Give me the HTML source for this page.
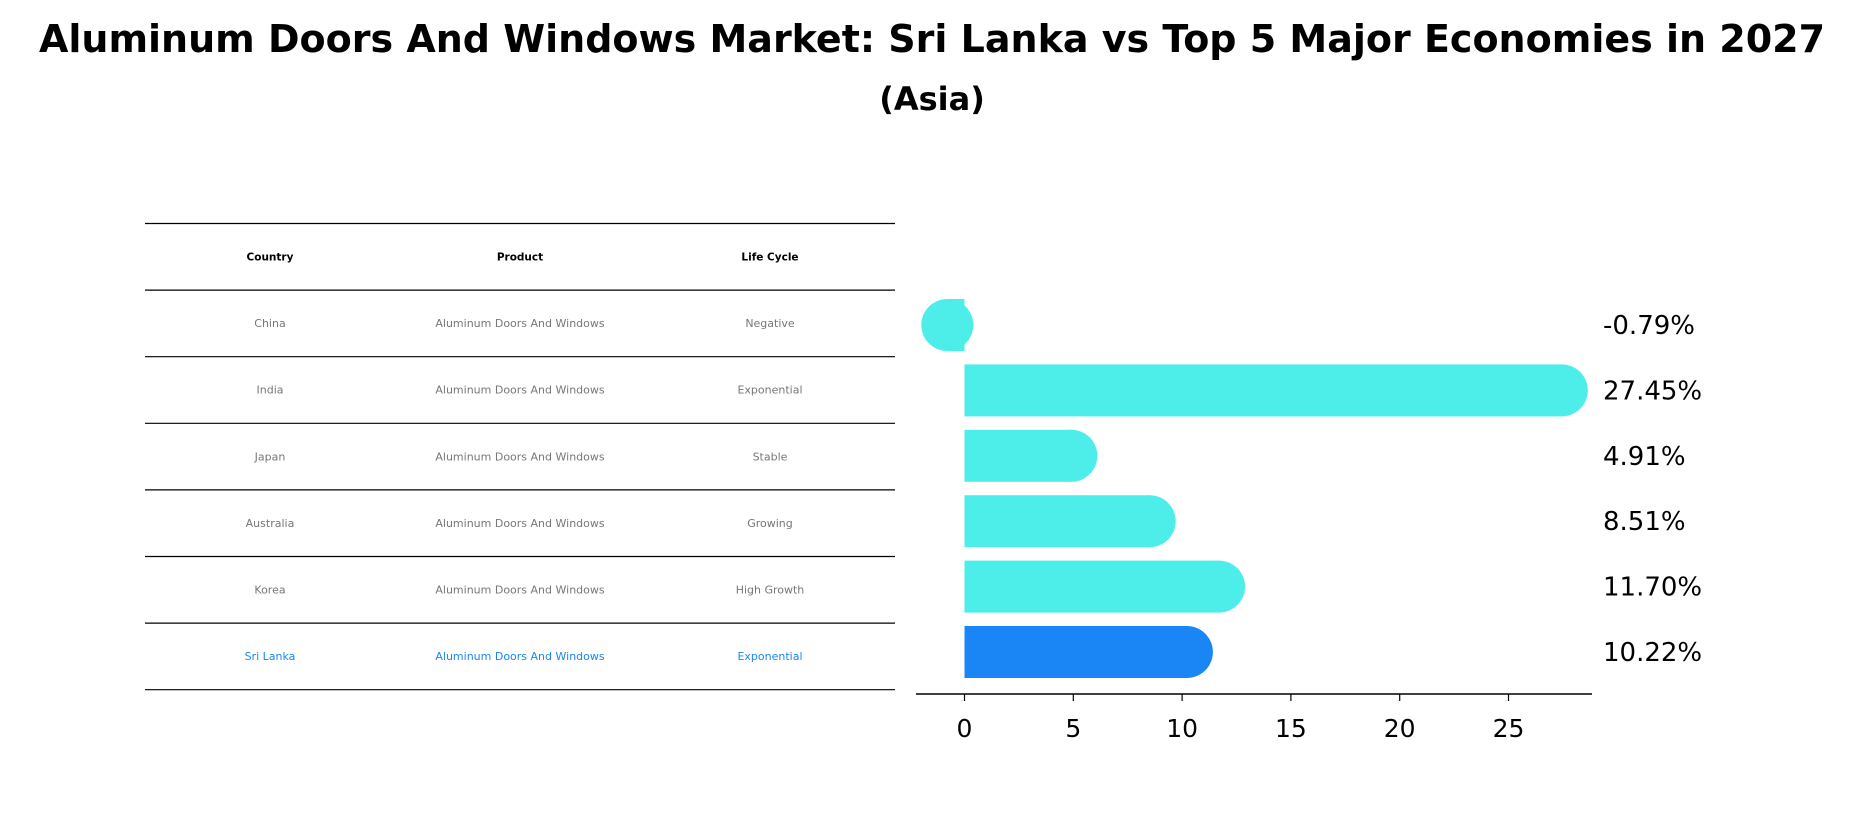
<!DOCTYPE html>
<html><head><meta charset="utf-8"><style>
body{margin:0;background:#fff;}
svg{display:block;font-family:"DejaVu Sans","Liberation Sans",sans-serif;}
</style></head><body>
<svg width="1865" height="823" viewBox="0 0 1865 823">
<text x="932" y="52" text-anchor="middle" font-size="38" font-weight="bold">Aluminum Doors And Windows Market: Sri Lanka vs Top 5 Major Economies in 2027</text>
<text x="932" y="110" text-anchor="middle" font-size="32" font-weight="bold">(Asia)</text>
<g id="table"></g>
<g id="bars"></g>
</svg>
<script>
const countries=["China","India","Japan","Australia","Korea","Sri Lanka"];
const products=["Aluminum Doors And Windows","Aluminum Doors And Windows","Aluminum Doors And Windows","Aluminum Doors And Windows","Aluminum Doors And Windows","Aluminum Doors And Windows"];
const lifeCycles=["Negative","Exponential","Stable","Growing","High Growth","Exponential"];
const values=[-0.79,27.45,4.91,8.51,11.70,10.22];
const valueLabels=["-0.79%","27.45%","4.91%","8.51%","11.70%","10.22%"];
const ticks=[0,5,10,15,20,25];
const NS="http://www.w3.org/2000/svg";
function mk(t,a,p){const e=document.createElementNS(NS,t);for(const k in a)e.setAttribute(k,a[k]);p.appendChild(e);return e;}
const tbl=document.getElementById('table');
const rowY=i=>223.5+i*66.6;
for(let i=0;i<=7;i++){const l=mk('line',{x1:145,x2:895,y1:rowY(i),y2:rowY(i),stroke:'#000','stroke-width':1.2},tbl);

}
const colX=[270,520,770];
["Country","Product","Life Cycle"].forEach((h,j)=>{const t=mk('text',{x:colX[j],y:rowY(0)+37,'text-anchor':'middle','font-size':10.5,'font-weight':'bold'},tbl);t.textContent=h;

});
countries.forEach((c,i)=>{const col=i===countries.length-1?'#1a86f5':'#777';
[c,products[i],lifeCycles[i]].forEach((v,j)=>{const t=mk('text',{x:colX[j],y:rowY(i+1)+37,'text-anchor':'middle','font-size':11,fill:col},tbl);t.textContent=v;

});});
const g=document.getElementById('bars');
const x0=964.5,ppu=21.76;
const xs=v=>x0+v*ppu;
const ys=i=>325+i*65.4;
const bh=52,r=26;
values.forEach((v,i)=>{const col=i===values.length-1?'#1a86f5':'#4deeea';
const a=Math.min(xs(0),xs(v)),b=Math.max(xs(0),xs(v));
const grp=mk('g',{},g);


mk('rect',{x:a,y:ys(i)-bh/2,width:b-a,height:bh,fill:col},grp);
mk('ellipse',{cx:xs(v),cy:ys(i),rx:r,ry:bh/2,fill:col},grp);
const t=mk('text',{x:1603,y:ys(i)+9,'font-size':26},g);t.textContent=valueLabels[i];

});
const ax=mk('line',{x1:916,x2:1592,y1:694,y2:694,stroke:'#000','stroke-width':1.5},g);


ticks.forEach(tv=>{mk('line',{x1:xs(tv),x2:xs(tv),y1:694,y2:701,stroke:'#000','stroke-width':1.2},g);
const t=mk('text',{x:xs(tv),y:737,'text-anchor':'middle','font-size':25},g);t.textContent=tv;

});
</script>
</body></html>
